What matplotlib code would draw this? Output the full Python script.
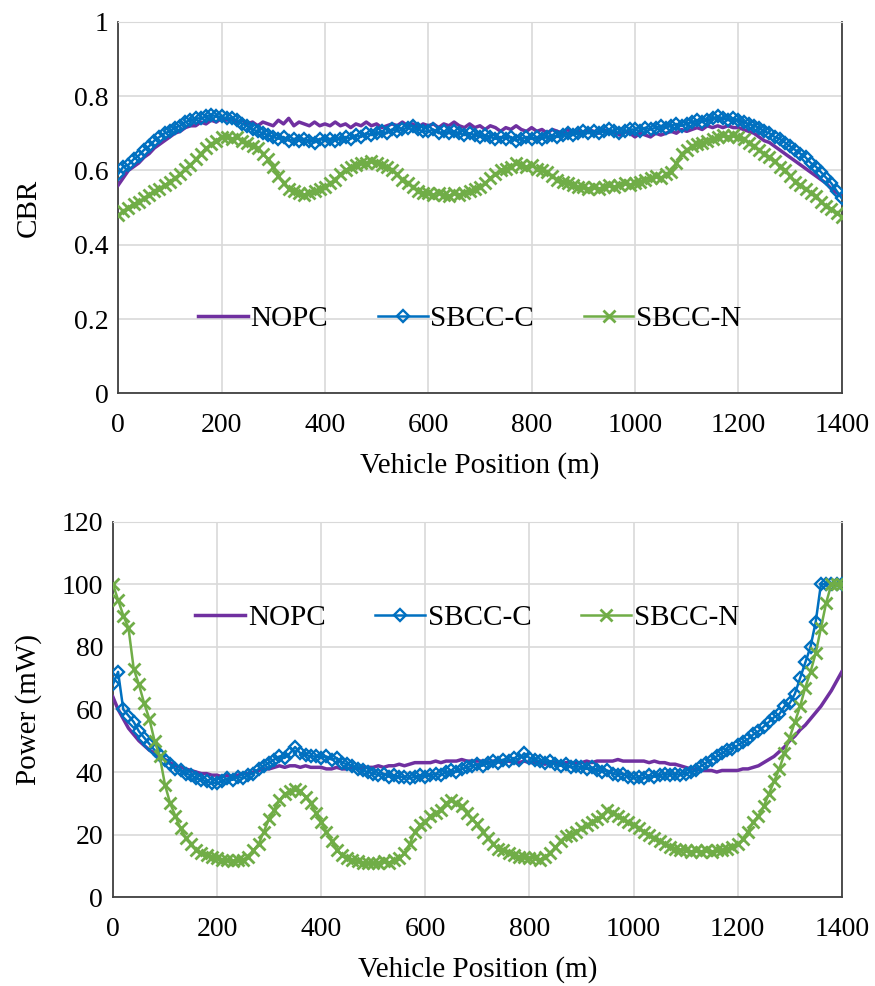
import matplotlib
matplotlib.use("Agg")
import matplotlib.pyplot as plt
from matplotlib.ticker import FuncFormatter, MultipleLocator
import numpy as np

plt.rcParams["font.family"] = ["Liberation Serif", "DejaVu Serif"]

# Vehicle position, sampled every 10 m
position = np.arange(0, 1401, 10)

# CBR per scheme
cbr_nopc = [
    0.56, 0.58, 0.60, 0.61, 0.62, 0.635, 0.645, 0.66, 0.67, 0.68,
    0.69, 0.70, 0.705, 0.715, 0.72, 0.72, 0.73, 0.725, 0.735, 0.73,
    0.74, 0.735, 0.74, 0.73, 0.735, 0.725, 0.73, 0.72, 0.73, 0.725,
    0.72, 0.735, 0.725, 0.74, 0.72, 0.73, 0.725, 0.72, 0.73, 0.72,
    0.725, 0.72, 0.73, 0.72, 0.725, 0.715, 0.725, 0.72, 0.73, 0.72,
    0.725, 0.715, 0.72, 0.725, 0.72, 0.73, 0.72, 0.725, 0.715, 0.725,
    0.72, 0.725, 0.715, 0.725, 0.72, 0.73, 0.72, 0.715, 0.725, 0.715,
    0.72, 0.71, 0.72, 0.715, 0.705, 0.715, 0.71, 0.72, 0.71, 0.705,
    0.715, 0.705, 0.71, 0.70, 0.71, 0.705, 0.70, 0.71, 0.70, 0.705,
    0.70, 0.71, 0.705, 0.70, 0.71, 0.70, 0.705, 0.695, 0.705, 0.70,
    0.69, 0.70, 0.695, 0.69, 0.70, 0.695, 0.70, 0.705, 0.70, 0.71,
    0.705, 0.71, 0.715, 0.71, 0.72, 0.715, 0.72, 0.715, 0.72, 0.715,
    0.715, 0.71, 0.705, 0.70, 0.69, 0.68, 0.675, 0.665, 0.655, 0.645,
    0.635, 0.625, 0.615, 0.605, 0.595, 0.585, 0.575, 0.565, 0.55, 0.54,
    0.53,
]
cbr_sbcc_c = [
    0.59, 0.61, 0.615, 0.63, 0.64, 0.655, 0.665, 0.68, 0.69, 0.70,
    0.705, 0.715, 0.72, 0.73, 0.735, 0.74, 0.74, 0.745, 0.75, 0.745,
    0.745, 0.74, 0.74, 0.735, 0.725, 0.72, 0.71, 0.705, 0.70, 0.695,
    0.69, 0.685, 0.69, 0.68, 0.685, 0.68, 0.685, 0.68, 0.675, 0.685,
    0.68, 0.685, 0.68, 0.685, 0.69, 0.685, 0.695, 0.69, 0.70, 0.695,
    0.70, 0.705, 0.70, 0.71, 0.705, 0.71, 0.715, 0.72, 0.71, 0.705,
    0.705, 0.71, 0.70, 0.705, 0.70, 0.705, 0.70, 0.695, 0.70, 0.695,
    0.69, 0.695, 0.69, 0.685, 0.69, 0.685, 0.69, 0.68, 0.685, 0.69,
    0.685, 0.69, 0.685, 0.69, 0.695, 0.69, 0.695, 0.70, 0.695, 0.70,
    0.705, 0.70, 0.705, 0.70, 0.705, 0.71, 0.705, 0.70, 0.705, 0.71,
    0.71, 0.705, 0.715, 0.71, 0.715, 0.72, 0.715, 0.72, 0.725, 0.72,
    0.725, 0.73, 0.735, 0.73, 0.735, 0.74, 0.745, 0.74, 0.735, 0.74,
    0.735, 0.73, 0.725, 0.72, 0.715, 0.705, 0.70, 0.69, 0.685, 0.675,
    0.665, 0.655, 0.645, 0.635, 0.62, 0.61, 0.595, 0.58, 0.565, 0.545,
    0.525,
]
cbr_sbcc_n = [
    0.48, 0.49, 0.50, 0.51, 0.515, 0.525, 0.535, 0.545, 0.55, 0.56,
    0.57, 0.58, 0.59, 0.605, 0.615, 0.63, 0.645, 0.66, 0.67, 0.68,
    0.69, 0.69, 0.685, 0.69, 0.68, 0.675, 0.665, 0.66, 0.645, 0.63,
    0.61, 0.585, 0.565, 0.55, 0.545, 0.54, 0.535, 0.54, 0.545, 0.55,
    0.555, 0.565, 0.575, 0.59, 0.60, 0.61, 0.615, 0.62, 0.62, 0.625,
    0.62, 0.615, 0.61, 0.60, 0.59, 0.575, 0.565, 0.555, 0.545, 0.54,
    0.54, 0.535, 0.54, 0.535, 0.53, 0.54, 0.535, 0.54, 0.545, 0.55,
    0.555, 0.565, 0.58, 0.59, 0.60, 0.605, 0.61, 0.62, 0.615, 0.61,
    0.615, 0.605, 0.60, 0.595, 0.585, 0.575, 0.57, 0.565, 0.56, 0.555,
    0.555, 0.55, 0.555, 0.55, 0.555, 0.56, 0.555, 0.56, 0.565, 0.56,
    0.565, 0.57, 0.575, 0.58, 0.585, 0.58, 0.59, 0.595, 0.62, 0.645,
    0.655, 0.665, 0.67, 0.675, 0.68, 0.685, 0.69, 0.695, 0.69, 0.695,
    0.69, 0.685, 0.675, 0.665, 0.655, 0.645, 0.635, 0.625, 0.61, 0.60,
    0.585, 0.57, 0.56, 0.55, 0.54, 0.53, 0.515, 0.505, 0.495, 0.485,
    0.475,
]

# Transmit power in mW
pw_nopc = [
    64, 60, 57, 54, 52, 50, 48.5, 47, 46, 45,
    44, 43, 42, 41.5, 41, 40.5, 40, 39.5, 39.5, 39,
    39, 38.5, 39, 38.5, 39, 39.5, 39.5, 40, 40.5, 41,
    41, 41.5, 42, 41.5, 42, 42, 41.5, 42, 41.5, 41.5,
    41.5, 41, 41, 41.5, 41, 41, 41.5, 41, 41.5, 41.5,
    41.5, 42, 41.5, 42, 42, 42.5, 42, 42.5, 43, 43,
    43, 43, 43.5, 43, 43.5, 43.5, 43.5, 44, 43.5, 43.5,
    43.5, 43.5, 43, 43.5, 43.5, 43, 43.5, 43, 43, 43.5,
    43, 43, 43, 42.5, 43, 43, 42.5, 43, 43, 43,
    43, 43.5, 43, 43.5, 43.5, 43.5, 43.5, 44, 43.5, 43.5,
    43.5, 43.5, 43.5, 43, 43.5, 43, 43, 42.5, 42.5, 42,
    41.5, 41, 41, 40.5, 40.5, 40.5, 40, 40.5, 40.5, 40.5,
    40.5, 41, 41, 41.5, 42, 43, 44, 45, 46.5, 48,
    50, 51.5, 53.5, 55, 57, 59, 61, 63.5, 66, 69,
    72,
]
pw_sbcc_c = [
    68, 72, 60, 58, 56, 53, 51, 49, 47, 45.5,
    44, 42.5, 41, 40.5, 39.5, 39, 38, 37.5, 37, 36.5,
    36.5, 37, 38, 37.5, 38.5, 38, 39, 39.5, 41, 42,
    43, 44, 45, 44.5, 46, 48, 46, 45.5, 45, 45,
    44.5, 45, 44, 44.5, 43, 42.5, 42, 41, 40.5, 40,
    39.5, 39, 39.5, 38.5, 39, 38.5, 38.5, 38, 38.5, 39,
    38.5, 39, 39.5, 39, 40, 40.5, 40, 41, 41.5, 42,
    42.5, 42, 43, 43.5, 43, 44, 43.5, 44.5, 44, 46,
    44.5, 44, 43.5, 43, 43.5, 42.5, 42, 42.5, 41.5, 42,
    41.5, 41, 41.5, 40.5, 40, 40.5, 39.5, 39, 39.5, 38.5,
    38, 38.5, 38, 39, 38.5, 39, 39.5, 39, 39.5, 39,
    39.5, 40, 40.5, 42, 43, 44, 45, 46, 47, 47.5,
    48.5, 49.5, 50.5, 52, 53, 54.5, 56, 57.5, 58.5, 61,
    62, 65, 70, 75, 80, 88, 100, 100, 100, 100,
    100,
]
pw_sbcc_n = [
    100, 95, 90, 86, 73, 68, 62, 57, 50, 45,
    36, 30, 26, 22, 19, 17, 15, 14, 13.5, 13,
    12.5, 12, 12, 11.5, 12, 12, 13, 15, 17, 21,
    25, 28, 31, 33, 34, 34.5, 34, 32, 30, 27,
    24, 21, 18, 15, 13.5, 12.5, 12, 11.5, 11, 11,
    11, 11, 11.5, 11, 12, 12.5, 14, 17, 21, 23,
    24, 26, 27, 28, 30, 31, 30, 29, 27, 25,
    23.5, 21, 19, 17, 15.5, 15, 14, 13.5, 13, 13,
    12.5, 12.5, 12, 13, 14, 16, 18, 19.5, 20, 21,
    22, 23, 24, 25, 26, 28, 27, 26, 25, 24,
    23, 22, 21, 20, 19, 18, 17, 16, 15.5, 15,
    15, 14.5, 15, 14.5, 15, 14.5, 15, 15, 15.5, 16,
    17, 18.5, 21, 24, 26, 29, 33, 37, 41, 46,
    51, 56, 61, 67, 72, 78, 86, 94, 100, 100,
    100,
]

SERIES_NAMES = ["NOPC", "SBCC-C", "SBCC-N"]
PURPLE = "#7030A0"
BLUE = "#0070C0"
GREEN = "#70AD47"
GRID = "#D9D9D9"
TICK_FS = 20
LABEL_FS = 21
LEGEND_FS = 21


def draw_series(ax, nopc, sbcc_c, sbcc_n):
    ax.plot(position, nopc, color=PURPLE, lw=2.5, label=SERIES_NAMES[0], zorder=3)
    ax.plot(position, sbcc_c, color=BLUE, lw=1.8, marker="D", ms=6.5,
            mfc="none", mec=BLUE, mew=1.7, label=SERIES_NAMES[1], zorder=4)
    ax.plot(position, sbcc_n, color=GREEN, lw=1.8, marker="x", ms=8,
            mew=2, label=SERIES_NAMES[2], zorder=5)


def style_axes(ax, ylabel, ymax, ystep, ylabel_x):
    ax.set_xlim(0, 1400)
    ax.set_ylim(0, ymax)
    ax.xaxis.set_major_locator(MultipleLocator(200))
    ax.yaxis.set_major_locator(MultipleLocator(ystep))
    ax.yaxis.set_major_formatter(FuncFormatter(lambda v, _: f"{v:g}"))
    ax.grid(True, color=GRID, lw=1.2, zorder=0)
    ax.set_axisbelow(True)
    ax.tick_params(axis="x", length=0, labelsize=TICK_FS, pad=14)
    ax.tick_params(axis="y", length=0, labelsize=TICK_FS, pad=7)
    ax.set_xlabel("Vehicle Position (m)", fontsize=LABEL_FS, labelpad=10)
    ax.set_ylabel(ylabel, fontsize=LABEL_FS)
    ax.yaxis.set_label_coords(ylabel_x, 0.5)
    for side in ("left", "bottom", "right"):
        ax.spines[side].set_color("#404040")
        ax.spines[side].set_linewidth(1.3)
    ax.spines["top"].set_color(GRID)


def add_legend(ax, y):
    ax.legend(loc="center", bbox_to_anchor=(0.486, y), ncol=3, frameon=False,
              fontsize=LEGEND_FS, handlelength=1.7, handletextpad=0.1,
              columnspacing=1.7, borderaxespad=0)


fig = plt.figure(figsize=(8.75, 9.86), dpi=100)
ax1 = fig.add_axes([0.135, 0.601, 0.827, 0.377])
ax2 = fig.add_axes([0.129, 0.090, 0.833, 0.381])

draw_series(ax1, cbr_nopc, cbr_sbcc_c, cbr_sbcc_n)
style_axes(ax1, "CBR", 1, 0.2, -0.105)
add_legend(ax1, 0.2)

draw_series(ax2, pw_nopc, pw_sbcc_c, pw_sbcc_n)
style_axes(ax2, "Power (mW)", 120, 20, -0.097)
add_legend(ax2, 0.744)

fig.savefig("out.png", dpi=100)
